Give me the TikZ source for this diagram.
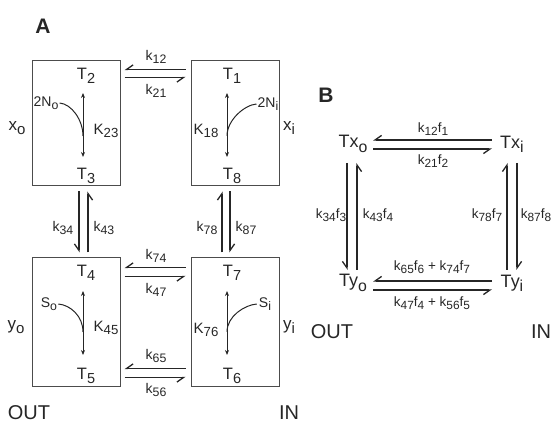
\documentclass[tikz,border=0pt]{standalone}
\usepackage{fontspec}
\setmainfont{Liberation Sans}
\usetikzlibrary{arrows.meta}
\newcommand\lw[1]{\raisebox{-0.45ex}{\scalebox{0.88}{#1}}}
\tikzset{
  every node/.style={inner sep=0pt, text=black!85},
  tl/.style={font=\fontsize{16.5}{16.5}\selectfont},
  xl/.style={font=\fontsize{17}{17}\selectfont},
  kl/.style={font=\fontsize{15}{15}\selectfont},
  ks/.style={font=\fontsize{14}{14}\selectfont},
  kb/.style={font=\fontsize{13.5}{13.5}\selectfont},
  tx/.style={font=\fontsize{18}{18}\selectfont},
  side/.style={font=\fontsize{20}{20}\selectfont},
  panel/.style={font=\fontsize{21}{21}\bfseries\selectfont},
  boxA/.style={draw=black!70, line width=1pt, minimum width=88pt, inner sep=0pt},
  hp/.style={draw=black!85, line width=1.3pt, -{Straight Barb[harpoon,swap,angle=70:8pt]}},
  hq/.style={draw=black!85, line width=1.3pt, -{Straight Barb[harpoon,angle=70:8pt]}},
  dbl/.style={draw=black!85, line width=1pt, {Stealth[length=5pt,width=4pt]}-{Stealth[length=5pt,width=4pt]}},
  crv/.style={draw=black!85, line width=1pt},
}
\begin{document}
\begin{tikzpicture}[x=1pt,y=-1pt]
\useasboundingbox (0,0) rectangle (554,427);
% ---------- Panel A ----------
\node[panel] (pa) at (43,26) {A};
\node[boxA, minimum height=125pt] (bxo) at (76,123.5) {};
\node[boxA, minimum height=125pt] (bxi) at (235,123.5) {};
\node[boxA, minimum height=128pt] (byo) at (76,322) {};
\node[boxA, minimum height=128pt] (byi) at (235,322) {};
% state labels
\node[tl] (t2) at (86,76) {T\lw{2}};
\node[tl] (t3) at (86,176) {T\lw{3}};
\node[tl] (t1) at (232,76) {T\lw{1}};
\node[tl] (t8) at (232,176) {T\lw{8}};
\node[tl] (t4) at (86,273) {T\lw{4}};
\node[tl] (t5) at (86,376) {T\lw{5}};
\node[tl] (t7) at (232,273) {T\lw{7}};
\node[tl] (t6) at (232,376) {T\lw{6}};
% inner arrows
\draw[dbl] ([shift={(-3,17)}]t2.center) -- ([shift={(-3,-19)}]t3.center);
\draw[dbl] ([shift={(-5,17)}]t1.center) -- ([shift={(-5,-19)}]t8.center);
\draw[dbl] ([shift={(-3,18)}]t4.center) -- ([shift={(-3,-21)}]t5.center);
\draw[dbl] ([shift={(-5,18)}]t7.center) -- ([shift={(-5,-21)}]t6.center);
% K labels
\node[kl] (k23) at (106,131) {K\lw{23}};
\node[kl] (k18) at (206,131) {K\lw{18}};
\node[kl] (k45) at (106,328) {K\lw{45}};
\node[kl] (k76) at (206,330) {K\lw{76}};
% ligands
\node[ks] (no) at (46,103) {2N\lw{o}};
\node[ks] (ni) at (268,104) {2N\lw{i}};
\node[ks] (so) at (49,304) {S\lw{o}};
\node[ks] (si) at (265,304) {S\lw{i}};
\coordinate (jno) at (83,136);
\coordinate (jni) at (227,136);
\coordinate (jso) at (83,332);
\coordinate (jsi) at (227,332);
\draw[crv] ([xshift=1]no.east) .. controls +(12,1) and +(0,-16) .. (jno);
\draw[crv] ([xshift=-1]ni.west) .. controls +(-12,1) and +(0,-16) .. (jni);
\draw[crv] ([xshift=1]so.east) .. controls +(12,1) and +(0,-16) .. (jso);
\draw[crv] ([xshift=-2]si.west) .. controls +(-12,1) and +(0,-16) .. (jsi);
% side labels
\node[xl] (xo) at (17,128) {x\lw{o}};
\node[xl] (xi) at (289,128) {x\lw{i}};
\node[xl] (yo) at (16,327) {y\lw{o}};
\node[xl] (yi) at (289,327) {y\lw{i}};
% horizontal harpoons
\draw[hp] ([shift={(-5,9)}]bxi.north west) -- ([shift={(4,9)}]bxo.north east);
\draw[hp] ([shift={(4,17)}]bxo.north east) -- ([shift={(-5,17)}]bxi.north west);
\node[ks] (k12) at (156,57) {k\lw{12}};
\node[ks] (k21) at (156,91) {k\lw{21}};
\draw[hp] ([shift={(-5,10)}]byi.north west) -- ([shift={(4,10)}]byo.north east);
\draw[hp] ([shift={(4,19)}]byo.north east) -- ([shift={(-5,19)}]byi.north west);
\node[ks] (k74) at (156,256) {k\lw{74}};
\node[ks] (k47) at (156,290) {k\lw{47}};
\draw[hp] ([shift={(-5,-18)}]byi.south west) -- ([shift={(4,-18)}]byo.south east);
\draw[hp] ([shift={(4,-9)}]byo.south east) -- ([shift={(-5,-9)}]byi.south west);
\node[ks] (k65) at (156,356) {k\lw{65}};
\node[ks] (k56) at (156,390) {k\lw{56}};
% vertical harpoons
\draw[hp] ([shift={(3,5)}]bxo.south) -- ([shift={(3,-5)}]byo.north);
\draw[hp] ([shift={(12,-5)}]byo.north) -- ([shift={(12,5)}]bxo.south);
\node[ks] (k34) at (63,228) {k\lw{34}};
\node[ks] (k43) at (104,228) {k\lw{43}};
\draw[hq] ([shift={(-13,-5)}]byi.north) -- ([shift={(-13,5)}]bxi.south);
\draw[hq] ([shift={(-5,5)}]bxi.south) -- ([shift={(-5,-5)}]byi.north);
\node[ks] (k78) at (207,228) {k\lw{78}};
\node[ks] (k87) at (246,228) {k\lw{87}};
\node[side] (outa) at (29,413) {OUT};
\node[side] (ina) at (289,413) {IN};
% ---------- Panel B ----------
\node[panel] (pb) at (326,95) {B};
\node[tx] (txo) at (353,144) {Tx\lw{o}};
\node[tx] (txi) at (512,144) {Tx\lw{i}};
\node[tx] (tyo) at (353,283) {Ty\lw{o}};
\node[tx] (tyi) at (512,283) {Ty\lw{i}};
\draw[hp] ([shift={(-20,-4)}]txi.center) -- ([shift={(20,-4)}]txo.center);
\draw[hp] ([shift={(20,5)}]txo.center) -- ([shift={(-20,5)}]txi.center);
\node[kb] (b12) at (433,129) {k\lw{12}f\lw{1}};
\node[kb] (b21) at (433,161) {k\lw{21}f\lw{2}};
\draw[hp] ([shift={(-20,-2)}]tyi.center) -- ([shift={(20,-2)}]tyo.center);
\draw[hp] ([shift={(20,7)}]tyo.center) -- ([shift={(-20,7)}]tyi.center);
\node[kb] (b65) at (432,267) {k\lw{65}f\lw{6} + k\lw{74}f\lw{7}};
\node[kb] (b47) at (432,303) {k\lw{47}f\lw{4} + k\lw{56}f\lw{5}};
\draw[hp] ([shift={(-6,19)}]txo.center) -- ([shift={(-6,-13)}]tyo.center);
\draw[hp] ([shift={(4,-13)}]tyo.center) -- ([shift={(4,19)}]txo.center);
\draw[hq] ([shift={(-5,-13)}]tyi.center) -- ([shift={(-5,19)}]txi.center);
\draw[hq] ([shift={(5,19)}]txi.center) -- ([shift={(5,-13)}]tyi.center);
\node[kb] (b34) at (331,215) {k\lw{34}f\lw{3}};
\node[kb] (b43) at (378,215) {k\lw{43}f\lw{4}};
\node[kb] (b78) at (487,215) {k\lw{78}f\lw{7}};
\node[kb] (b87) at (536,215) {k\lw{87}f\lw{8}};
\node[side] (outb) at (332,332) {OUT};
\node[side] (inb) at (541,332) {IN};
\end{tikzpicture}
\end{document}
